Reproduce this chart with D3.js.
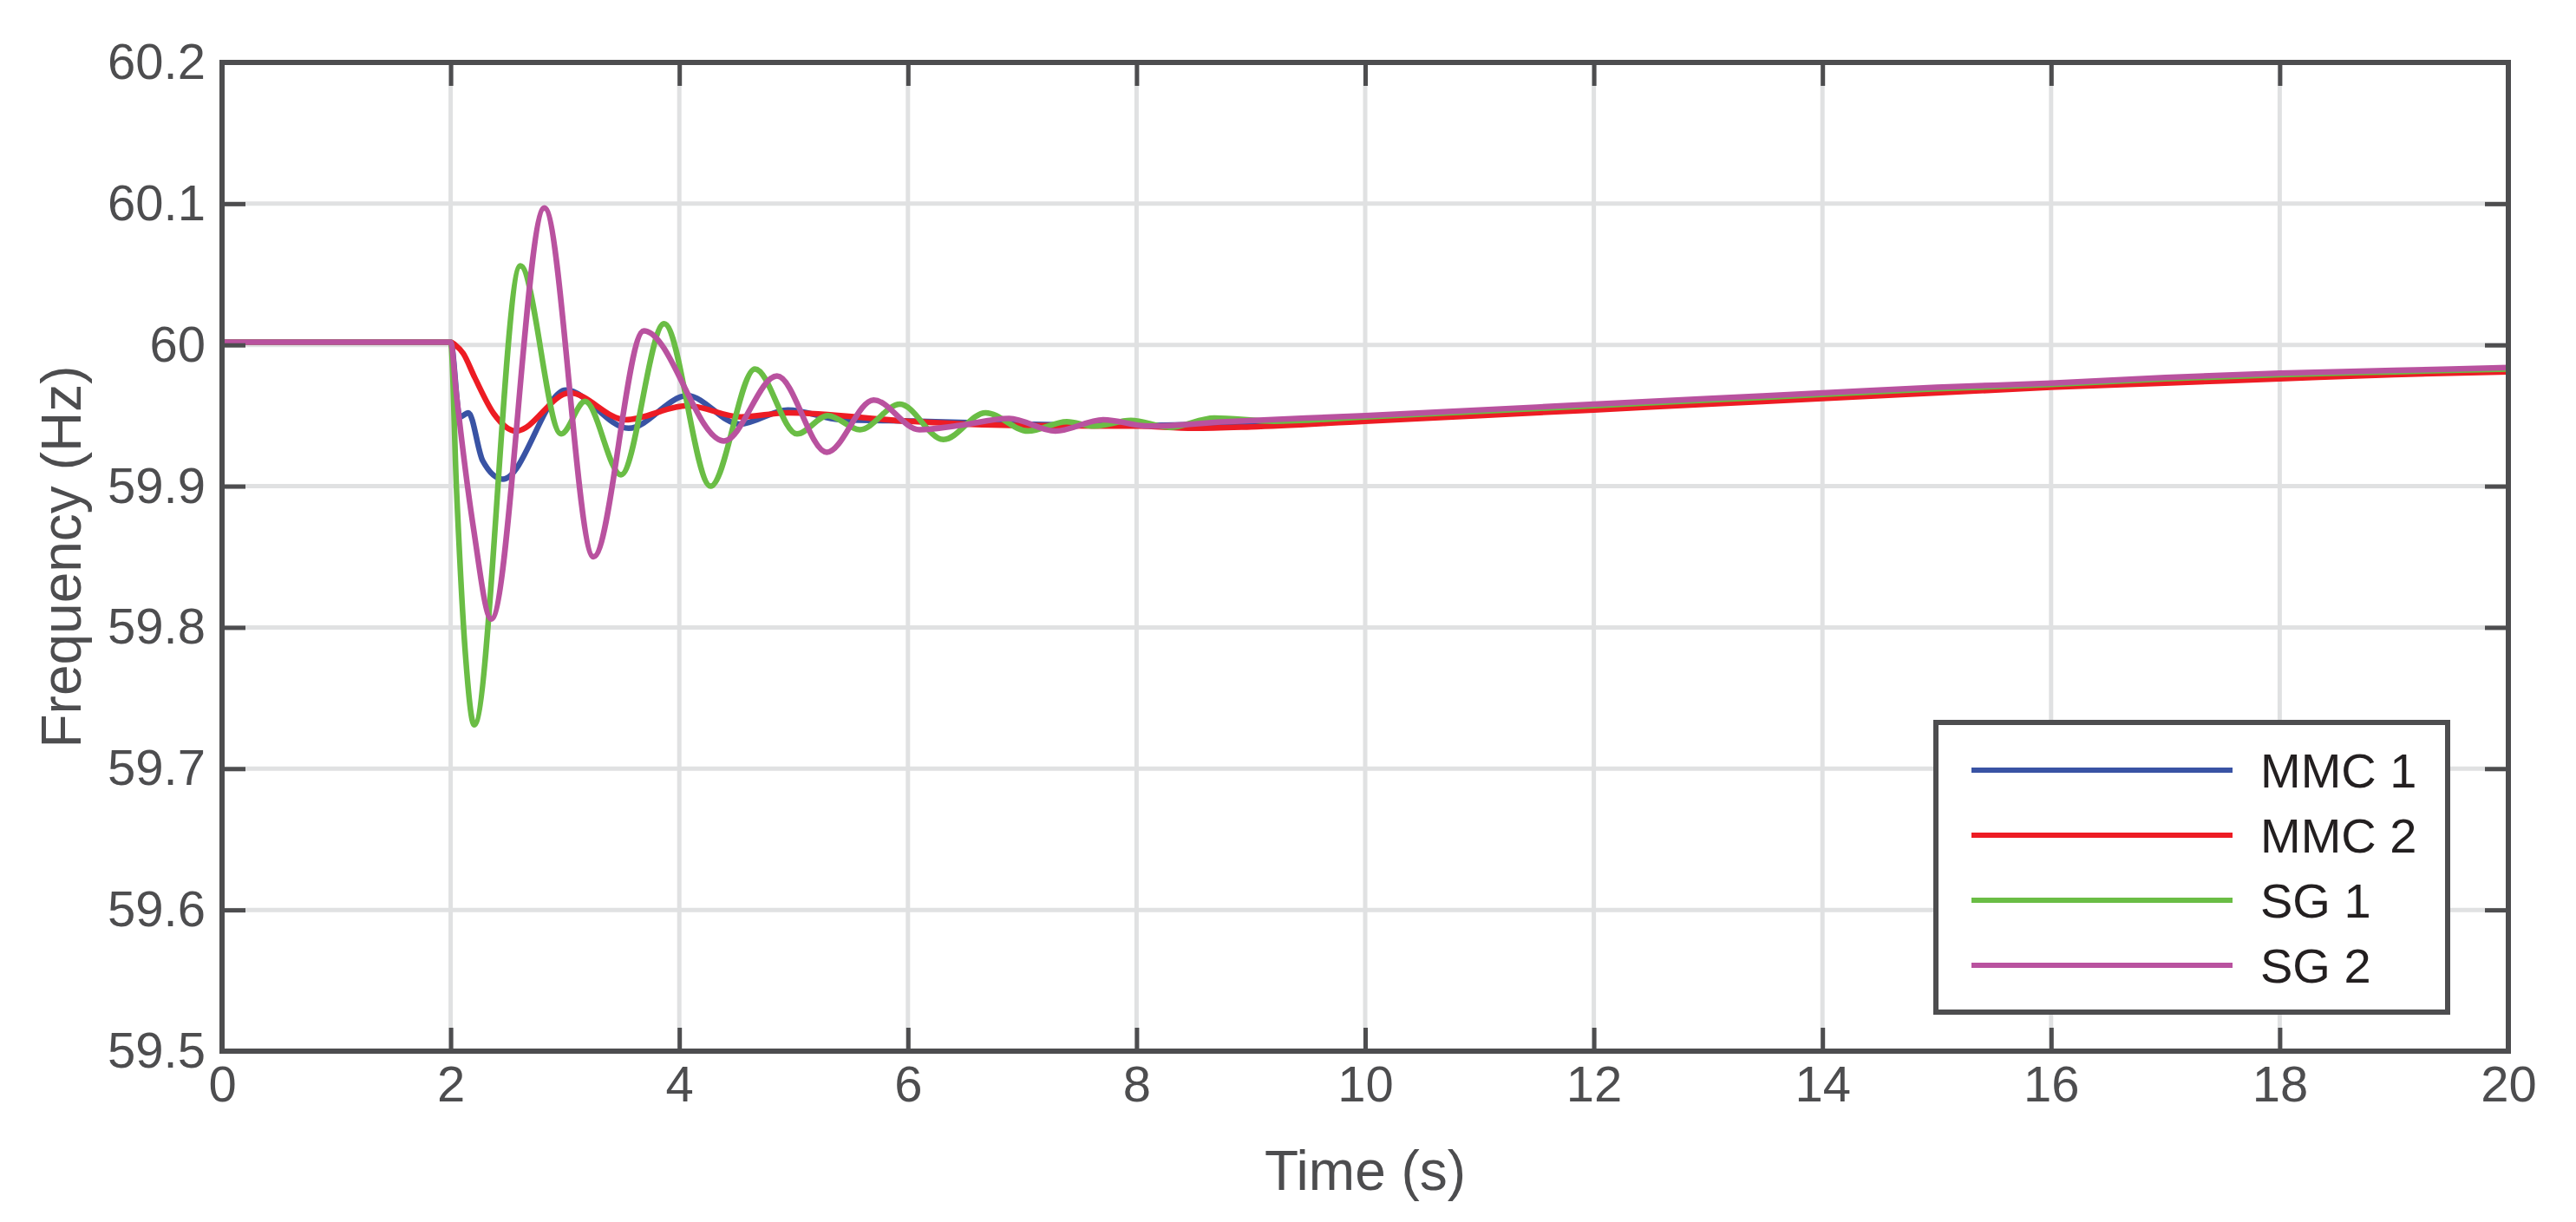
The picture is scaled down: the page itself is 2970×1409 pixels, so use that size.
<!DOCTYPE html>
<html>
<head>
<meta charset="utf-8">
<script src="https://cdn.jsdelivr.net/npm/d3@7"></script>
<style>
  html, body { margin: 0; padding: 0; background: #fff; }
  svg { display: block; font-family: Arial, 'Liberation Sans', Helvetica, sans-serif; }
</style>
</head>
<body>
<div id="chart"></div>
<script>
// data: [time (s), frequency (Hz)]
const mmc1 = [[0, 60.002], [2.0, 60.002], [2.08, 59.949], [2.155, 59.952], [2.28, 59.918], [2.456, 59.905],
  [3.007, 59.968], [3.557, 59.941], [4.07, 59.964], [4.527, 59.944], [4.95, 59.954], [5.42, 59.947],
  [6.1, 59.946], [7, 59.944], [8, 59.943], [9, 59.945], [10, 59.948], [11, 59.952], [12, 59.956],
  [13, 59.960], [14, 59.964], [15, 59.968], [16, 59.972], [17, 59.975], [18, 59.978], [19, 59.981], [20, 59.983]]
const mmc2 = [[0, 60.002], [2.0, 60.002], [2.04, 60.000], [2.11, 59.994], [2.21, 59.977], [2.38, 59.951],
  [2.57, 59.939], [3.04, 59.966], [3.53, 59.947], [4.07, 59.957], [4.54, 59.949], [4.95, 59.952],
  [6.0, 59.946], [6.9, 59.943], [8, 59.9425], [8.5, 59.941], [9, 59.942], [10, 59.946], [11, 59.950],
  [12, 59.954], [13, 59.958], [14, 59.962], [15, 59.966], [16, 59.970], [17, 59.973], [18, 59.976],
  [19, 59.979], [20, 59.981]]
const sg1 = [[0, 60.002], [2.0, 60.002], [2.05, 59.90], [2.13, 59.78], [2.206, 59.731], [2.61, 60.056],
  [2.966, 59.937], [3.176, 59.960], [3.49, 59.908], [3.868, 60.015], [4.274, 59.900], [4.662, 59.983],
  [5.03, 59.937], [5.30, 59.950], [5.58, 59.940], [5.93, 59.958], [6.31, 59.933], [6.68, 59.952],
  [7.05, 59.939], [7.39, 59.9456], [7.63, 59.9425], [7.95, 59.9466], [8.29, 59.9417], [8.68, 59.9483],
  [9.2, 59.946], [10, 59.949], [11, 59.953], [12, 59.957], [13, 59.961], [14, 59.965], [15, 59.969],
  [16, 59.972], [17, 59.976], [18, 59.979], [19, 59.981], [20, 59.983]]
const sg2 = [[0, 60.002], [2.0, 60.002], [2.05, 59.965], [2.2, 59.87], [2.355, 59.806], [2.82, 60.097],
  [3.25, 59.850], [3.69, 60.010], [4.39, 59.932], [4.855, 59.978], [5.29, 59.924], [5.70, 59.961],
  [6.10, 59.940], [6.45, 59.943], [6.885, 59.948], [7.29, 59.939], [7.71, 59.947], [8.1, 59.9425],
  [8.78, 59.9456], [10, 59.950], [11, 59.954], [12, 59.958], [13, 59.962], [14, 59.966], [15, 59.970],
  [16, 59.973], [17, 59.977], [18, 59.980], [19, 59.982], [20, 59.984]]

const seriesNames = ['MMC 1', 'MMC 2', 'SG 1', 'SG 2']
const seriesColors = ['#3953a4', '#ed1c24', '#6abd45', '#b9529f']
const xTicks = [0, 2, 4, 6, 8, 10, 12, 14, 16, 18, 20]
const yTicks = [59.5, 59.6, 59.7, 59.8, 59.9, 60, 60.1, 60.2]
const yTickLabels = ['59.5', '59.6', '59.7', '59.8', '59.9', '60', '60.1', '60.2']

const W = 2970, H = 1409
const pLeft = 256, pRight = 2892, pTop = 72, pBottom = 1212
const axisColor = '#4d4d4f'
const tickLen = 27

const svg = d3.select('#chart').append('svg')
  .attr('width', W)
  .attr('height', H)

let x = d3.scaleLinear().domain([0, 20]).range([pLeft, pRight])
let y = d3.scaleLinear().domain([59.5, 60.2]).range([pBottom, pTop])

// grid
svg.append('g')
  .selectAll('line')
  .data(xTicks.slice(1, -1))
  .enter().append('line')
  .attr('x1', d => x(d)).attr('x2', d => x(d))
  .attr('y1', pTop).attr('y2', pBottom)
  .attr('stroke', '#e0e1e2').attr('stroke-width', 5)
svg.append('g')
  .selectAll('line')
  .data(yTicks.slice(1, -1))
  .enter().append('line')
  .attr('y1', d => y(d)).attr('y2', d => y(d))
  .attr('x1', pLeft).attr('x2', pRight)
  .attr('stroke', '#e0e1e2').attr('stroke-width', 5)

// curves
svg.append('clipPath').attr('id', 'clip')
  .append('rect').attr('x', pLeft).attr('y', pTop).attr('width', pRight - pLeft).attr('height', pBottom - pTop)

let line = d3.line()
  .x(d => x(d[0]))
  .y(d => y(d[1]))
  .curve(d3.curveMonotoneX)

svg.append('g')
  .attr('clip-path', 'url(#clip)')
  .selectAll('path')
  .data([mmc1, mmc2, sg1, sg2])
  .enter().append('path')
  .attr('d', d => line(d))
  .attr('fill', 'none')
  .attr('stroke', (d, i) => seriesColors[i])
  .attr('stroke-width', 6.5)
  .attr('stroke-linejoin', 'round')

// axes (ticks inward on all four sides)
let xBottom = d3.axisBottom(x).tickValues(xTicks).tickSizeInner(-tickLen).tickSizeOuter(0).tickPadding(14)
let xTop = d3.axisTop(x).tickValues(xTicks).tickSizeInner(-tickLen).tickSizeOuter(0).tickFormat('')
let yLeft = d3.axisLeft(y).tickValues(yTicks).tickSizeInner(-tickLen).tickSizeOuter(0).tickPadding(19)
  .tickFormat((d, i) => yTickLabels[i])
let yRight = d3.axisRight(y).tickValues(yTicks).tickSizeInner(-tickLen).tickSizeOuter(0).tickFormat('')

const styleAxis = g => {
  g.select('.domain').remove()
  g.selectAll('.tick line').attr('stroke', axisColor).attr('stroke-width', 5)
  g.selectAll('text').attr('fill', axisColor).attr('font-size', 58)
    .attr('font-family', 'Arial, "Liberation Sans", sans-serif')
}

svg.append('g').attr('transform', `translate(0,${pBottom})`).call(xBottom).call(styleAxis)
  .selectAll('text').attr('dy', '0.75em')
svg.append('g').attr('transform', `translate(0,${pTop})`).call(xTop).call(styleAxis)
svg.append('g').attr('transform', `translate(${pLeft},0)`).call(yLeft).call(styleAxis)
  .selectAll('text').attr('dy', '0.32em')
svg.append('g').attr('transform', `translate(${pRight},0)`).call(yRight).call(styleAxis)

svg.append('rect')
  .attr('x', pLeft).attr('y', pTop)
  .attr('width', pRight - pLeft).attr('height', pBottom - pTop)
  .attr('fill', 'none').attr('stroke', axisColor).attr('stroke-width', 6)

// axis titles
svg.append('text')
  .text('Time (s)')
  .attr('x', (pLeft + pRight) / 2)
  .attr('y', 1372)
  .attr('text-anchor', 'middle')
  .attr('font-size', 64)
  .attr('fill', axisColor)
svg.append('text')
  .text('Frequency (Hz)')
  .attr('transform', `translate(93,${(pTop + pBottom) / 2}) rotate(-90)`)
  .attr('text-anchor', 'middle')
  .attr('font-size', 64)
  .attr('fill', axisColor)

// legend
const lg = svg.append('g')
lg.append('rect')
  .attr('x', 2232).attr('y', 833)
  .attr('width', 590).attr('height', 334)
  .attr('fill', '#fff').attr('stroke', axisColor).attr('stroke-width', 6)
let lgItems = lg.selectAll('g.item')
  .data(seriesNames)
  .enter().append('g')
  .attr('class', 'item')
  .attr('transform', (d, i) => `translate(0,${888 + i * 75})`)
lgItems.append('line')
  .attr('x1', 2273).attr('x2', 2574)
  .attr('stroke', (d, i) => seriesColors[i])
  .attr('stroke-width', 6)
lgItems.append('text')
  .text(d => d)
  .attr('x', 2606)
  .attr('dy', '0.36em')
  .attr('font-size', 56)
  .attr('fill', '#231f20')
</script>
</body>
</html>
